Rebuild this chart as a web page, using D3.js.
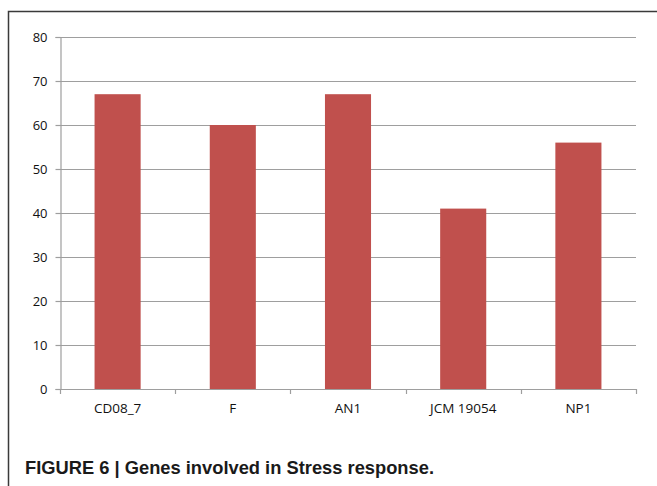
<!DOCTYPE html>
<html><head><meta charset="utf-8">
<script src="https://cdn.jsdelivr.net/npm/d3@7"></script>
<style>body{margin:0;background:#fff}svg{display:block}</style>
</head><body>
<script>
const categories = ["CD08_7", "F", "AN1", "JCM 19054", "NP1"];
const values = [67, 60, 67, 41, 56];
const yTicks = [0, 10, 20, 30, 40, 50, 60, 70, 80];
const caption = "FIGURE 6 | Genes involved in Stress response.";

const W = 657, H = 486;
const svg = d3.select("body").append("svg").attr("width", W).attr("height", H);

// frame (top + left visible)
svg.append("path").attr("d", `M8.5,${H} V11.5 H${W}`).attr("fill","none")
  .attr("stroke","#3a3a3a").attr("stroke-width",1.5);

const x = d3.scaleBand().domain(categories).range([60, 636]).paddingInner(0.6).paddingOuter(0.3);
const y = d3.scaleLinear().domain([0, 80]).range([389, 37]);

const grid = "#9e9e9e";
// gridlines
svg.append("g").selectAll("line").data(yTicks.filter(t=>t>0)).join("line")
  .attr("x1", 60).attr("x2", 636).attr("y1", d=>Math.round(y(d))+0.5).attr("y2", d=>Math.round(y(d))+0.5)
  .attr("stroke", grid).attr("stroke-width",1.2);

// bars
svg.append("g").selectAll("rect").data(values).join("rect")
  .attr("x", (d,i)=>x(categories[i])).attr("width", x.bandwidth())
  .attr("y", d=>y(d)).attr("height", d=>y(0)-y(d)).attr("fill", "#c0504d");

// y axis
const yAxis = svg.append("g").attr("transform","translate(60.5,0)")
  .call(d3.axisLeft(y).tickValues(yTicks).tickSize(5).tickPadding(8));
yAxis.select(".domain").attr("stroke", grid).attr("stroke-width",1.2);
yAxis.selectAll(".tick line").attr("stroke", grid).attr("stroke-width",1.2);
yAxis.selectAll("text").attr("font-family","'Open Sans', sans-serif").attr("font-size","13px").attr("fill","#111");

// x axis
const boundaries = d3.range(categories.length+1).map(i => 60 + i*x.step());
const xg = svg.append("g");
xg.append("line").attr("x1",60).attr("x2",636).attr("y1",389.5).attr("y2",389.5).attr("stroke",grid).attr("stroke-width",1.2);
xg.selectAll(".tk").data(boundaries).join("line").attr("class","tk")
  .attr("x1",d=>Math.round(d)+0.5).attr("x2",d=>Math.round(d)+0.5).attr("y1",389).attr("y2",394)
  .attr("stroke",grid).attr("stroke-width",1.2);
xg.selectAll("text").data(categories).join("text")
  .attr("x", d=>x(d)+x.bandwidth()/2).attr("y", 413)
  .attr("text-anchor","middle").attr("font-family","'Open Sans', sans-serif").attr("font-size","13.5px").attr("fill","#111")
  .text(d=>d);

// caption
svg.append("text").attr("x",25).attr("y",474).attr("font-family","'Liberation Sans', Arial, sans-serif")
  .attr("font-weight","bold").attr("font-size","18.5px").attr("fill","#1a1a1a")
  .attr("textLength",409).attr("lengthAdjust","spacingAndGlyphs").text(caption);
</script>
</body></html>
